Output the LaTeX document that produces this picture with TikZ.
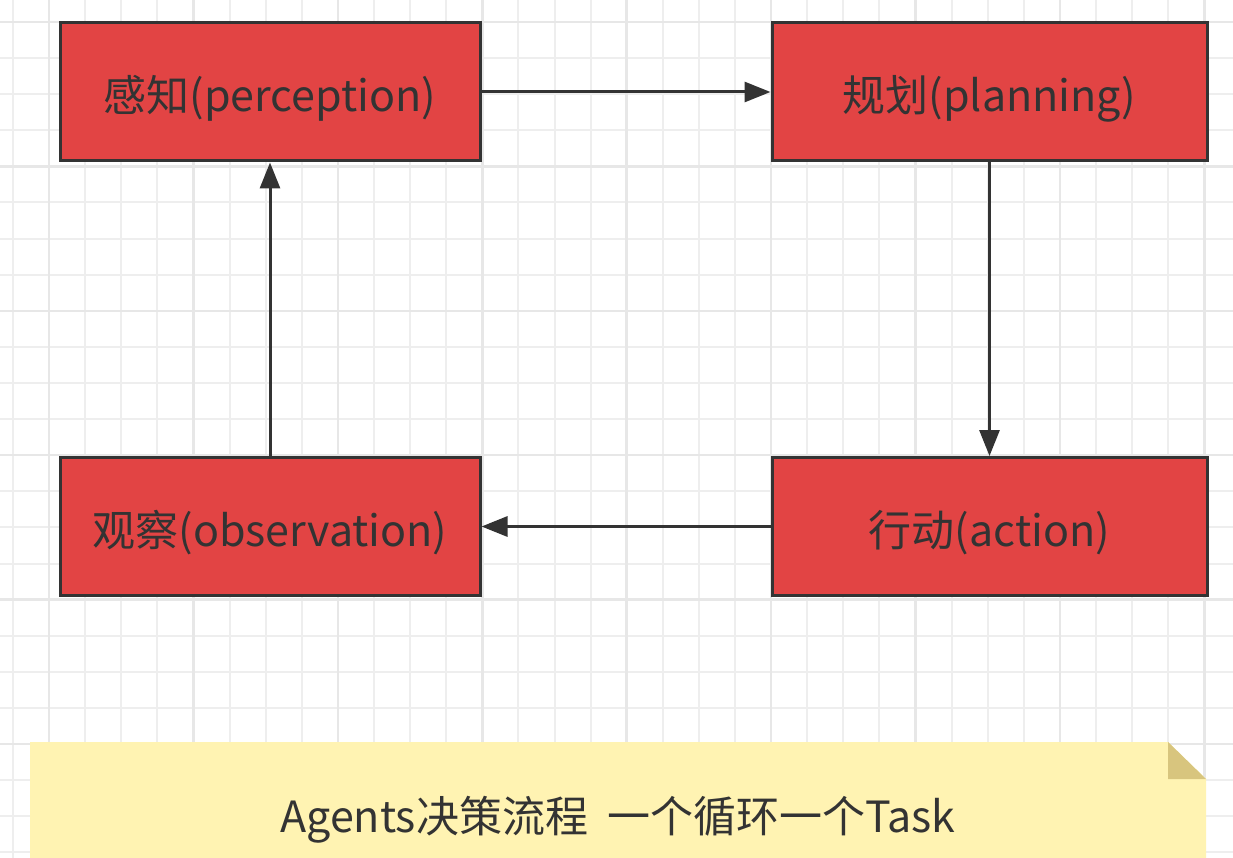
\documentclass[tikz,border=0pt]{standalone}
\usepackage{fontspec}
\setmainfont{Noto Sans CJK SC}
\usetikzlibrary{arrows.meta}

\definecolor{gridminor}{HTML}{EEEEEE}
\definecolor{gridmajor}{HTML}{E7E7E7}
\definecolor{boxfill}{HTML}{E24444}
\definecolor{ink}{HTML}{333333}
\definecolor{notefill}{HTML}{FFF3B2}
\definecolor{notefold}{HTML}{D8C57E}

\tikzset{
  minorline/.style={draw=gridminor, line width=2pt},
  majorline/.style={draw=gridmajor, line width=2.5pt},
  stagebox/.style={draw=ink, fill=boxfill, line width=3pt, text=ink,
    minimum height=138pt, font=\fontsize{43pt}{50pt}\selectfont,
    text height=41pt, text depth=2pt},
  flow/.style={draw=ink, line width=3pt,
    -{Triangle[length=26pt, width=20pt]}},
  notetext/.style={text=ink, font=\fontsize{43pt}{50pt}\selectfont}
}

\begin{document}
\begin{tikzpicture}[x=1pt, y=-1pt]
\useasboundingbox (0,0) rectangle (1233,858);
\fill[white] (0,0) rectangle (1233,858);

% background grid, a heavier line every fourth cell
\foreach \i in {0,...,34} {
  \pgfmathsetmacro{\gx}{13+36.1*\i}
  \path[minorline] (\gx,0) -- (\gx,858);
}
\foreach \i in {0,...,24} {
  \pgfmathsetmacro{\gy}{-14.1+36.1*\i}
  \path[minorline] (0,\gy) -- (1233,\gy);
}
\foreach \i in {1,5,...,33} {
  \pgfmathsetmacro{\gx}{13+36.1*\i}
  \path[majorline] (\gx,0) -- (\gx,858);
}
\foreach \i in {1,5,...,24} {
  \pgfmathsetmacro{\gy}{-14.1+36.1*\i}
  \path[majorline] (0,\gy) -- (1233,\gy);
}

% the four stages of the loop
\node[stagebox, minimum width=420pt] (perception) at (270,92)    {感知(perception)};
\node[stagebox, minimum width=435pt] (planning)   at (989.5,92)  {规划(planning)};
\node[stagebox, minimum width=435pt] (action)     at (989.5,526.5) {行动(action)};
\node[stagebox, minimum width=420pt] (observation) at (270,526.5) {观察(observation)};

\draw[flow] (perception.east) -- (planning.west);
\draw[flow] (planning.south) -- (action.north);
\draw[flow] (action.west) -- (observation.east);
\draw[flow] (observation.north) -- (perception.south);

% sticky note with a folded corner
\fill[notefill] (30,742) -- (1168,742) -- (1206,779) -- (1206,870) -- (30,870) -- cycle;
\fill[notefold] (1168,742) -- (1168,779) -- (1206,779) -- cycle;
\node[notetext] (caption) at (618,820) {Agents决策流程\ \ 一个循环一个Task};
\end{tikzpicture}
\end{document}
